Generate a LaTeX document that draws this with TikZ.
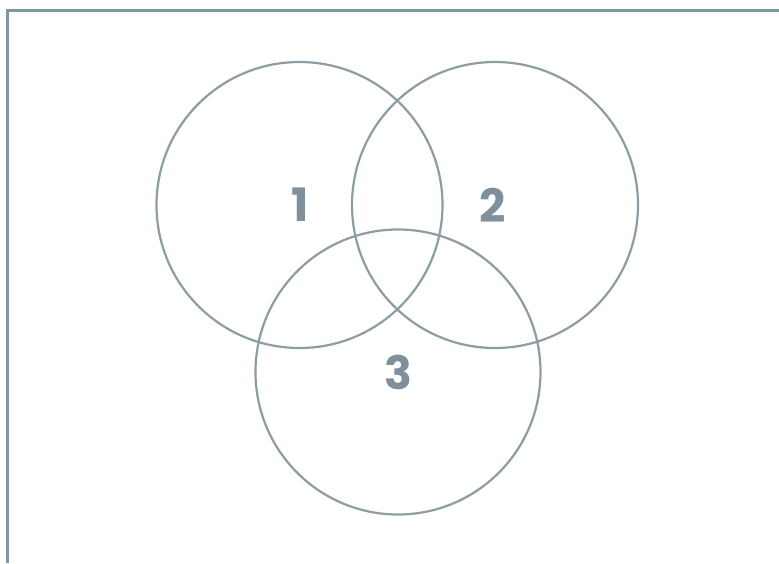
\documentclass[tikz,border=0pt]{standalone}
\usepackage{fontspec}
\setmainfont{Poppins}
\definecolor{framecol}{HTML}{7F97A2}
\definecolor{ringcol}{HTML}{8C9DA4}
\definecolor{numcol}{HTML}{7F8F9B}
\begin{document}
\begin{tikzpicture}[x=1pt,y=-1pt,
  ring/.style={draw=ringcol,line width=2.2pt},
  num/.style={text=numcol,font=\fontsize{46}{46}\selectfont\bfseries,inner sep=0pt}]
\useasboundingbox (0,0) rectangle (779,563);
\fill[white] (0,0) rectangle (779,563);
\draw[framecol,line width=3pt] (7.5,563) -- (7.5,10.5) -- (779,10.5);
\node[ring,circle,minimum size=286pt,inner sep=0pt] (c1) at (299.5,205) {};
\node[ring,circle,minimum size=286pt,inner sep=0pt] (c2) at (495,205) {};
\node[ring,circle,minimum size=285pt,inner sep=0pt] (c3) at (398,372) {};
\node[num] (n1) at (300,205) {1};
\node[num] (n2) at (493,205) {2};
\node[num] (n3) at (398,372) {3};
\end{tikzpicture}
\end{document}
